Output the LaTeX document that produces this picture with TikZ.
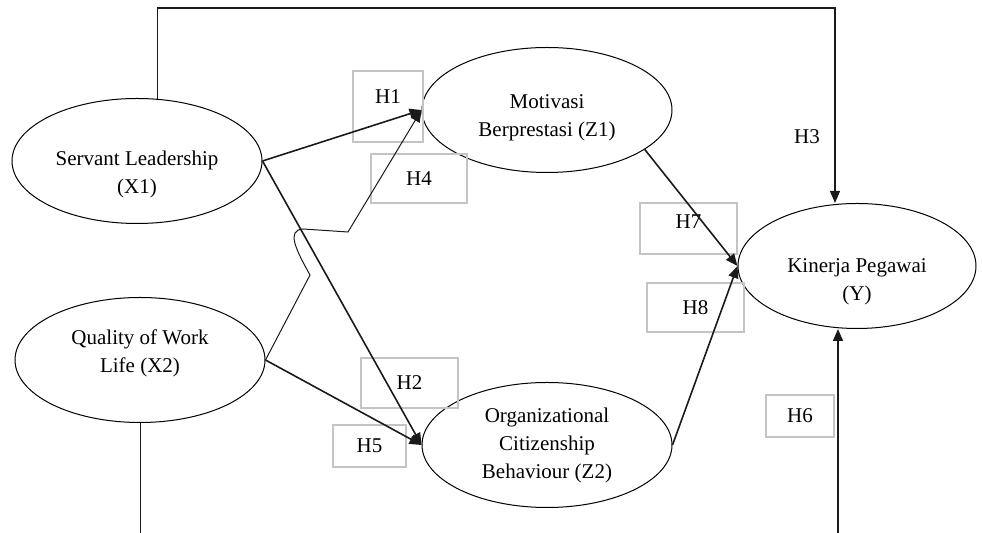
\documentclass[tikz,border=0pt]{standalone}
\usepackage{fontspec}
\setmainfont{Liberation Serif}
\usepackage{tikz}
\usetikzlibrary{arrows.meta,calc,shapes.geometric}
\usepackage{xcolor}
\definecolor{BoxGray}{HTML}{C4C4C4}
\definecolor{LineGray}{HTML}{1A1A1A}
\newcommand{\padstrut}[2][0pt]{\rule[-#1]{0pt}{#2}}

\begin{document}
\begin{tikzpicture}[x=0.5pt,y=-0.5pt,
    latent/.style={draw,ellipse,line width=0.5pt,minimum width=125pt,minimum height=62.5pt,inner sep=0pt,align=center,font=\fontsize{10.5}{14}\selectfont},
    hbox/.style={draw=BoxGray,line width=1pt,inner sep=0pt,font=\fontsize{10.5}{12}\selectfont},
    hyp/.style={line width=0.8pt,color=LineGray,-{Triangle[length=6pt,width=5pt]}},
    thinline/.style={line width=0.5pt,color=LineGray}]
    \useasboundingbox (0,0) rectangle (982,533);

    \node[latent] (X1) at (137,161) {\padstrut{20.8pt}Servant Leadership\\(X1)};
    \node[latent] (Z1) at (547,110) {\padstrut{14.3pt}Motivasi\\Berprestasi (Z1)};
    \node[latent] (X2) at (140,360) {Quality of Work\\Life (X2)\padstrut[8.6pt]{8.6pt}};
    \node[latent] (Z2) at (547,445) {Organizational\\Citizenship\\Behaviour (Z2)};
    \node[latent,minimum width=119pt] (Y) at (857,266) {\padstrut{22.3pt}Kinerja Pegawai\\(Y)};

    \node[hbox,minimum width=35pt,minimum height=35.5pt,text depth=9.5pt] (h1) at (388,106.5) {H1};
    \node[hbox,minimum width=48pt,minimum height=24.5pt] (h4) at (419,178.5) {H4};
    \node[hbox,minimum width=48.5pt,minimum height=25.5pt,text depth=7pt] (h7) at (688.5,228.5) {H7};
    \node[hbox,minimum width=48.5pt,minimum height=24.5pt] (h8) at (695.5,307.5) {H8};
    \node[hbox,minimum width=48.5pt,minimum height=25pt] (h2) at (409.5,383) {H2};
    \node[hbox,minimum width=36.5pt,minimum height=21pt] (h5) at (369.5,446) {H5};
    \node[hbox,minimum width=34pt,minimum height=21pt] (h6) at (800,416) {H6};
    \node[font=\fontsize{10.5}{12}\selectfont] (h3) at (807,137) {H3};

    \coordinate (top) at (835,8);
    \coordinate (bot6) at (838,533);
    \coordinate (k1) at (310,275);
    \coordinate (k2) at (303,229);
    \coordinate (k3) at (348,232);

    \draw[hyp] (X1.east) -- (Z1.west);
    \draw[hyp] (X1.east) -- (Z2.west);
    \draw[hyp] (X2.east) -- (Z2.west);
    \draw[thinline,-{Triangle[length=6pt,width=5pt]}] (X2.east) -- (k1) .. controls (296,250) and (286,230) .. (k2) -- (k3) -- (Z1.west);
    \draw[hyp] (Z1.-22) -- (Y.west);
    \draw[hyp] (Z2.east) -- (Y.west);
    \draw[hyp,line width=0.65pt] (X1.72) |- (top) -- (top |- Y.north);
    \draw[hyp,line width=0.7pt] (bot6) -- (bot6 |- Y.south);
    \draw[thinline] (X2.south) -- (X2.south |- bot6);
\end{tikzpicture}
\end{document}
